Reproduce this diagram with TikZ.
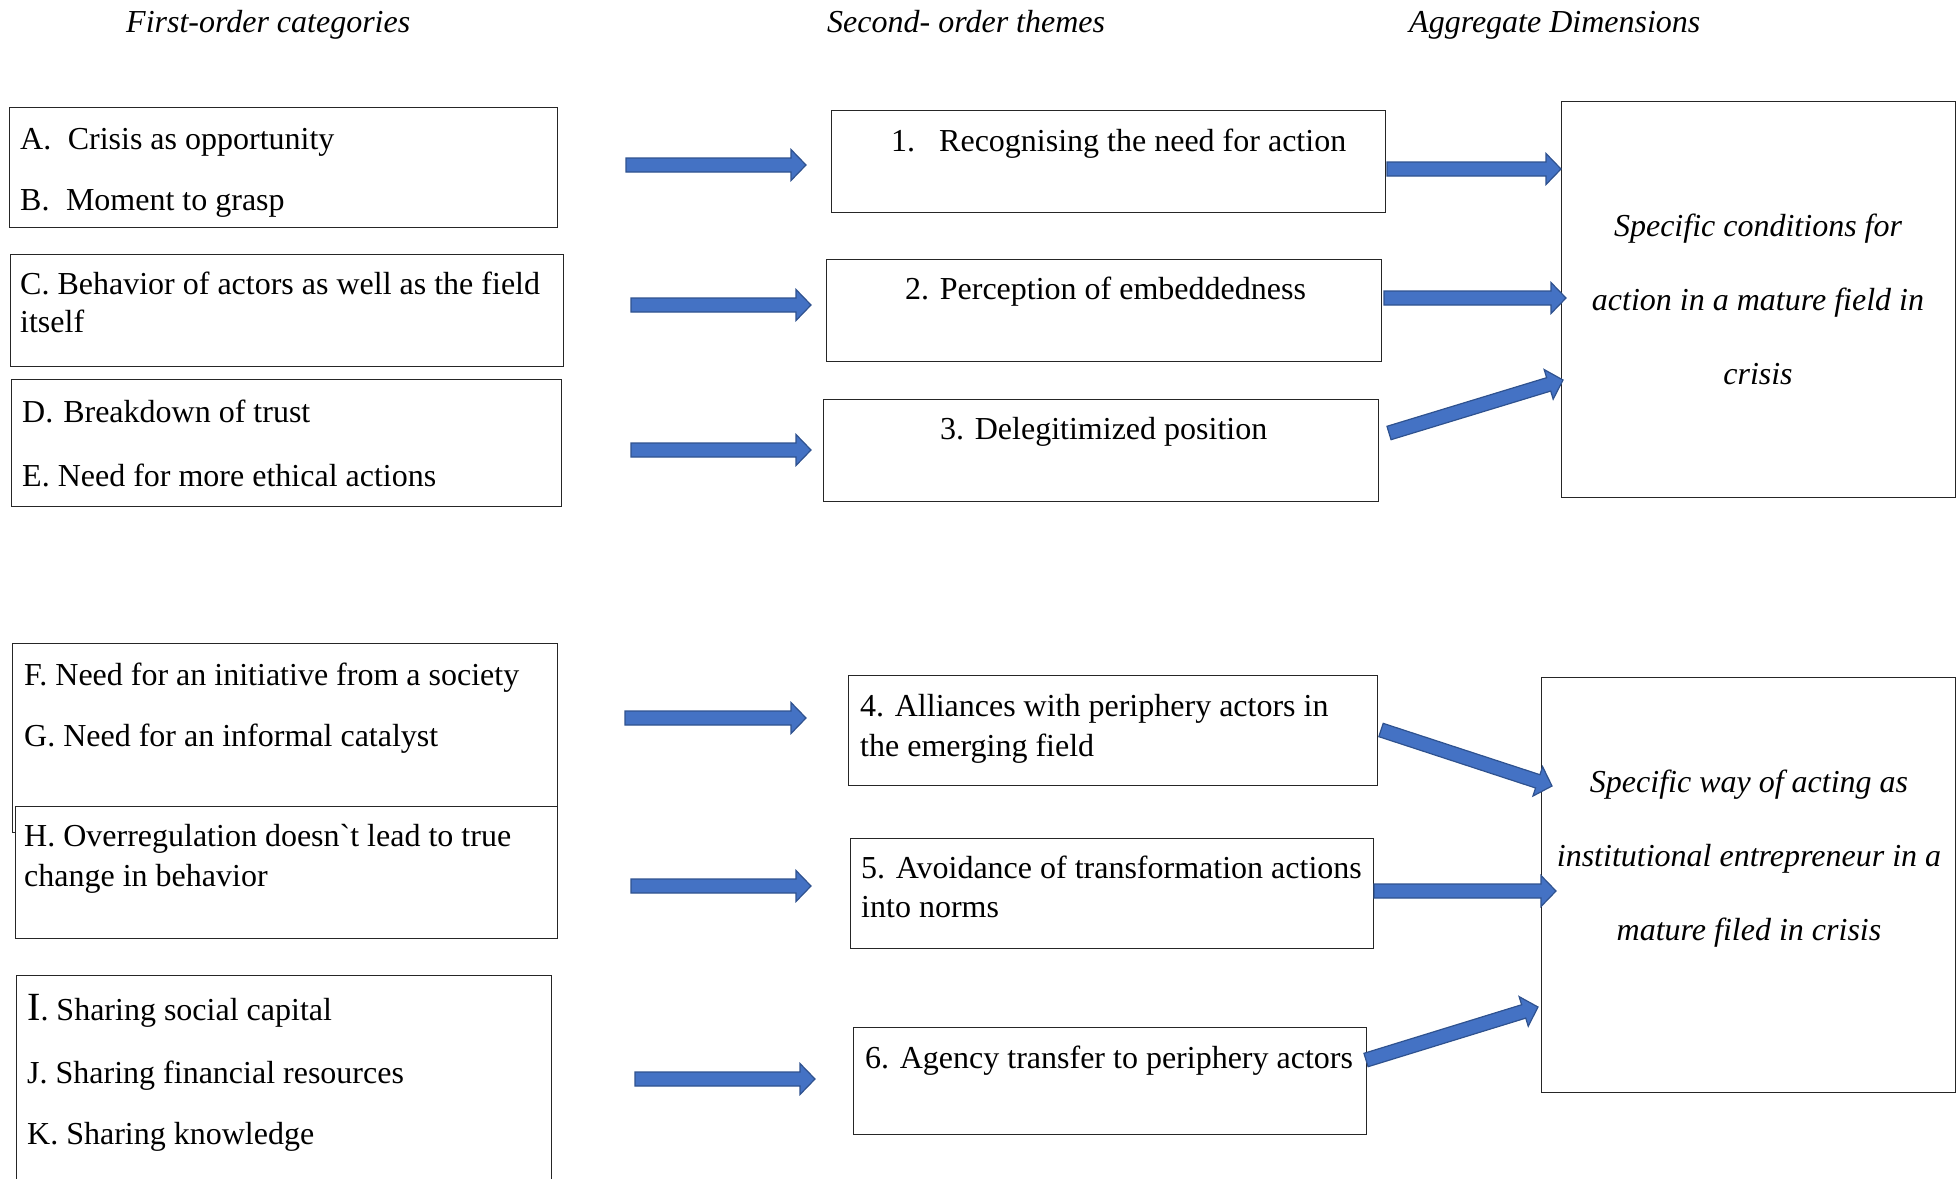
\documentclass[tikz,border=0pt]{standalone}
\usepackage{fontspec}
\setmainfont{Liberation Serif}
\usetikzlibrary{calc}
\definecolor{arrowfill}{HTML}{4472C4}
\definecolor{arrowedge}{HTML}{2F528F}

\tikzset{
  box/.style={draw=black!85, line width=1.3pt, fill=white, rectangle,
    inner sep=0pt, anchor=north west},
  txt/.style={inner sep=0pt, anchor=base west, font=\fontsize{32}{38}\selectfont},
  ctxt/.style={inner sep=0pt, anchor=base, font=\fontsize{32}{38}\selectfont\itshape},
  head/.style={inner sep=0pt, anchor=base west, font=\fontsize{32}{38}\selectfont\itshape},
  blockarrow/.style={fill=arrowfill, draw=arrowedge, line width=1.2pt, line join=miter},
}

% block arrow from coordinate #1 (tail centre) to coordinate #2 (tip)
\newcommand\blockarrow[2]{%
  \coordinate (ba-h) at ($(#2)!15pt!(#1)$);
  \draw[blockarrow]
    ($(#1)!7pt!90:(#2)$) -- ($(ba-h)!7pt!-90:(#1)$) -- ($(ba-h)!15.5pt!-90:(#1)$)
    -- (#2) -- ($(ba-h)!15.5pt!90:(#1)$) -- ($(ba-h)!7pt!90:(#1)$)
    -- ($(#1)!7pt!-90:(#2)$) -- cycle;
}

\begin{document}
\begin{tikzpicture}[x=1pt, y=-1pt]
\useasboundingbox (0,0) rectangle (1959,1178);
\clip (0,0) rectangle (1959,1178);

% column headings
\node[head] (h1) at (126,32) {First-order categories};
\node[head] (h2) at (827,32) {Second- order themes};
\node[head] (h3) at (1409,32) {Aggregate Dimensions};

% first-order categories
\node[box, minimum width=548pt, minimum height=120pt] (ab) at (9,107) {};
\node[txt] (ta) at (20,149) {A.\hspace{16.5pt}Crisis as opportunity};
\node[txt] (tb) at (20,210) {B.\hspace{16.5pt}Moment to grasp};

\node[box, minimum width=553pt, minimum height=112pt] (c) at (10,254) {};
\node[txt] (tc1) at (20,294) {C. Behavior of actors as well as the field};
\node[txt] (tc2) at (20,332) {itself};

\node[box, minimum width=550pt, minimum height=127pt] (de) at (11,379) {};
\node[txt] (td) at (22,422) {D.\hspace{10pt}Breakdown of trust};
\node[txt] (te) at (22,486) {E. Need for more ethical actions};

\node[box, minimum width=545pt, minimum height=189pt] (fg) at (12,643) {};
\node[txt] (tf) at (24,685) {F. Need for an initiative from a society};
\node[txt] (tg) at (24,746) {G. Need for an informal catalyst};

\node[box, minimum width=542pt, minimum height=132pt] (h) at (15,806) {};
\node[txt] (th1) at (24,846) {H. Overregulation doesn\textasciigrave t lead to true};
\node[txt] (th2) at (24,886) {change in behavior};

\node[box, minimum width=535pt, minimum height=240pt] (ijk) at (16,975) {};
\node[txt] (ti) at (27,1020) {{\fontsize{40}{40}\selectfont I}. Sharing social capital};
\node[txt] (tj) at (27,1083) {J. Sharing financial resources};
\node[txt] (tk) at (27,1144) {K. Sharing knowledge};

% second-order themes
\node[box, minimum width=554pt, minimum height=102pt] (s1) at (831,110) {};
\node[txt] (t1) at (891,151) {1.\hspace{24pt}Recognising the need for action};

\node[box, minimum width=555pt, minimum height=102pt] (s2) at (826,259) {};
\node[txt] (t2) at (905,299) {2. Perception of embeddedness};

\node[box, minimum width=555pt, minimum height=102pt] (s3) at (823,399) {};
\node[txt] (t3) at (940,439) {3. Delegitimized position};

\node[box, minimum width=529pt, minimum height=110pt] (s4) at (848,675) {};
\node[txt] (t4a) at (860,716) {4. Alliances with periphery actors in};
\node[txt] (t4b) at (860,756) {the emerging field};

\node[box, minimum width=523pt, minimum height=110pt] (s5) at (850,838) {};
\node[txt] (t5a) at (861,878) {5. Avoidance of transformation actions};
\node[txt] (t5b) at (861,917) {into norms};

\node[box, minimum width=513pt, minimum height=107pt] (s6) at (853,1027) {};
\node[txt] (t6) at (865,1068) {6. Agency transfer to periphery actors};

% aggregate dimensions
\node[box, minimum width=394pt, minimum height=396pt] (p) at (1561,101) {};
\node[ctxt] (tp1) at (1758,236) {Specific conditions for};
\node[ctxt] (tp2) at (1758,310) {action in a mature field in};
\node[ctxt] (tp3) at (1758,384) {crisis};

\node[box, minimum width=414pt, minimum height=415pt] (q) at (1541,677) {};
\node[ctxt] (tq1) at (1749,792) {Specific way of acting as};
\node[ctxt] (tq2) at (1749,866) {institutional entrepreneur in a};
\node[ctxt] (tq3) at (1749,940) {mature filed in crisis};

% arrow end points
\coordinate (ab-o) at (626,165);  \coordinate (s1-i) at (806,165);
\coordinate (c-o)  at (631,305);  \coordinate (s2-i) at (811,305);
\coordinate (de-o) at (631,450);  \coordinate (s3-i) at (811,450);
\coordinate (fg-o) at (625,718);  \coordinate (s4-i) at (806,718);
\coordinate (h-o)  at (631,886);  \coordinate (s5-i) at (811,886);
\coordinate (ijk-o) at (635,1079); \coordinate (s6-i) at (815,1079);

\coordinate (s1-o) at (1387,169); \coordinate (p-i1) at (1561,169);
\coordinate (s2-o) at (1384,298); \coordinate (p-i2) at (1566,298);
\coordinate (s3-o) at (1389,433); \coordinate (p-i3) at (1563,380);
\coordinate (s4-o) at (1381,730); \coordinate (q-i1) at (1552,786);
\coordinate (s5-o) at (1374,891); \coordinate (q-i2) at (1556,891);
\coordinate (s6-o) at (1366,1060); \coordinate (q-i3) at (1538,1007);

\blockarrow{ab-o}{s1-i}
\blockarrow{c-o}{s2-i}
\blockarrow{de-o}{s3-i}
\blockarrow{fg-o}{s4-i}
\blockarrow{h-o}{s5-i}
\blockarrow{ijk-o}{s6-i}

\blockarrow{s1-o}{p-i1}
\blockarrow{s2-o}{p-i2}
\blockarrow{s3-o}{p-i3}
\blockarrow{s4-o}{q-i1}
\blockarrow{s5-o}{q-i2}
\blockarrow{s6-o}{q-i3}
\end{tikzpicture}
\end{document}
